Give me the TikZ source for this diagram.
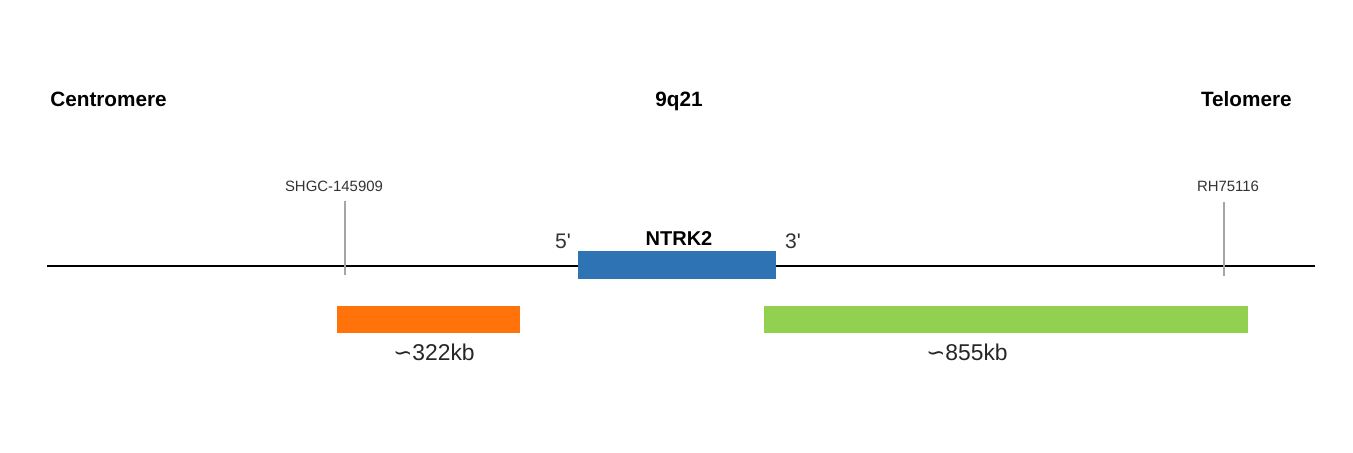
\documentclass[tikz,border=0pt]{standalone}
\usepackage{fontspec}
\setmainfont{Liberation Sans}
\newfontfamily\symfont{DejaVu Sans}
\usetikzlibrary{positioning}
\definecolor{genebox}{RGB}{46,116,181}
\definecolor{leftbar}{RGB}{255,115,10}
\definecolor{rightbar}{RGB}{146,208,80}
\definecolor{markgray}{RGB}{165,165,165}
\tikzset{
  title/.style={font=\fontsize{11.8}{14}\selectfont\bfseries, inner sep=0pt},
  stslabel/.style={font=\fontsize{8.5}{10}\selectfont, text=black!80, inner sep=0pt},
  endlabel/.style={font=\fontsize{12}{14}\selectfont, text=black!80, inner sep=0pt},
  sizelabel/.style={font=\fontsize{13}{15}\selectfont, text=black!85, inner sep=0pt},
}

\begin{document}
\begin{tikzpicture}[x=0.02cm,y=-0.02cm]
        \useasboundingbox (0,0) rectangle (1353,453);
        % chromosome line
        \coordinate (L) at (47,266);
        \coordinate (R) at (1315,266);
        \draw [line width=1.1pt] (L) -- (R);
        % headings
        \node [title, anchor=base west] (cen) at (50,106) {Centromere};
        \node [title, anchor=base] (band) at (679,106) {9q21};
        \node [title, anchor=base east] (tel) at (1292,106) {Telomere};
        % markers
        \coordinate (m1top) at (345,201);
        \coordinate (m1bot) at (345,275);
        \coordinate (m2top) at (1224,202);
        \coordinate (m2bot) at (1224,276);
        \draw [markgray, line width=0.9pt] (m1top) -- (m1bot);
        \draw [markgray, line width=0.9pt] (m2top) -- (m2bot);
        \node [stslabel] (sts1) at (334,186) {SHGC-145909};
        \node [stslabel] (sts2) at (1228,186) {RH75116};
        % gene
        \fill [genebox] (578,251) rectangle (776,279);
        \node [title, font=\fontsize{11.4}{14}\selectfont\bfseries] (gene) at (679,239) {NTRK2};
        \node [endlabel] (five) at (563,241) {5\textquotesingle};
        \node [endlabel] (three) at (793,241) {3\textquotesingle};
        % flanking regions
        \fill [leftbar] (337,306) rectangle (520,333);
        \fill [rightbar] (764,306) rectangle (1248,333);
        \node [sizelabel] (up) at (434,352) {{\symfont ∽}322kb};
        \node [sizelabel] (down) at (967,352) {{\symfont ∽}855kb};
      \end{tikzpicture}
\end{document}
